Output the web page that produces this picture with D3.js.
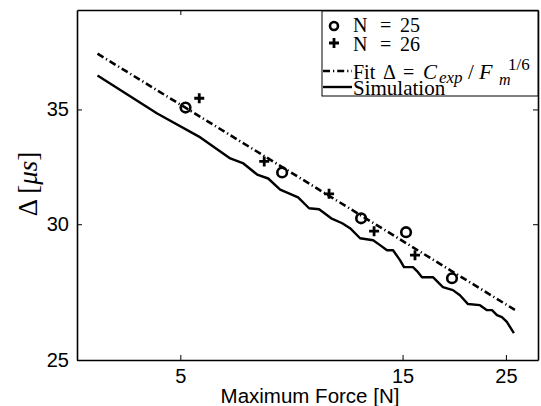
<!DOCTYPE html>
<html><head><meta charset="utf-8">
<script src="https://cdn.jsdelivr.net/npm/d3@7"></script>
<style>body{margin:0;background:#fff}svg{display:block}</style>
</head><body>
<svg id="c" width="541" height="406"></svg>
<script>
const xTicks = [5, 15, 25];
const yTicks = [25, 30, 35];
const n25X = [5.13, 8.27, 12.22, 15.26, 19.15];
const n25Y = [35.09, 32.16, 30.24, 29.68, 27.90];
const n26X = [5.49, 7.57, 10.43, 13.03, 15.95];
const n26Y = [35.53, 32.64, 31.25, 29.72, 28.78];
const fitX = [3.32, 26.14];
const fitY = [37.72, 26.74];
const simX = [3.32, 4.46, 5.52, 6.40, 6.83, 7.31, 7.72, 8.19, 8.95, 9.45, 9.93, 10.54, 11.13, 11.57, 12.16, 12.97, 13.42, 13.89, 14.31, 14.81, 15.11, 15.79, 16.19, 16.51, 17.43, 18.31, 19.24, 19.92, 20.73, 21.99, 22.77, 23.34, 23.92, 24.51, 25.12, 26.01];
const simY = [36.63, 34.81, 33.71, 32.77, 32.55, 32.07, 31.90, 31.43, 31.10, 30.65, 30.61, 30.24, 30.04, 29.84, 29.44, 29.36, 29.17, 28.97, 28.97, 28.59, 28.32, 28.32, 28.13, 27.94, 27.94, 27.57, 27.46, 27.27, 26.95, 26.91, 26.73, 26.73, 26.55, 26.48, 26.31, 25.92];
const legendLabels = ["N = 25", "N = 26", "Fit", "Simulation"];

const L = 77, R = 538, T = 10, B = 360;
const svg = d3.select("#c");
const x = d3.scaleLog().domain([3, 29.3]).range([L, R]);
const y = d3.scaleLog().domain([25, 40]).range([B, T]);

const sans = "Liberation Sans, Arial, sans-serif";
const serif = "Liberation Serif, Times New Roman, serif";
const dash = "7,3,1.2,3";

// data lines
const line = d3.line().x(d => x(d[0])).y(d => y(d[1]));
svg.append("path").datum(d3.zip(fitX, fitY)).attr("d", line)
  .attr("fill", "none").attr("stroke", "#000").attr("stroke-width", 2.6)
  .attr("stroke-dasharray", dash);
svg.append("path").datum(d3.zip(simX, simY)).attr("d", line)
  .attr("fill", "none").attr("stroke", "#000").attr("stroke-width", 2.4)
  .attr("stroke-linejoin", "round");

// markers
svg.append("g").selectAll("circle").data(d3.zip(n25X, n25Y)).join("circle")
  .attr("cx", d => x(d[0])).attr("cy", d => y(d[1])).attr("r", 4.8)
  .attr("fill", "none").attr("stroke", "#000").attr("stroke-width", 2.6);
svg.append("g").selectAll("path").data(d3.zip(n26X, n26Y)).join("path")
  .attr("transform", d => `translate(${x(d[0])},${y(d[1])})`)
  .attr("d", "M-5,0H5M0,-5V5")
  .attr("stroke", "#000").attr("stroke-width", 2.8).attr("fill", "none");

// axes
const ax = svg.append("g").attr("transform", `translate(0,${B})`)
  .call(d3.axisBottom(x).tickValues(xTicks).tickFormat(d3.format("d")).tickSizeInner(-5).tickSizeOuter(0).tickPadding(9));
const axT = svg.append("g").attr("transform", `translate(0,${T})`)
  .call(d3.axisTop(x).tickValues(xTicks).tickFormat("").tickSizeInner(-5).tickSizeOuter(0));
const ay = svg.append("g").attr("transform", `translate(${L},0)`)
  .call(d3.axisLeft(y).tickValues(yTicks).tickFormat(d3.format("d")).tickSizeInner(-5).tickSizeOuter(0).tickPadding(8));
const ayR = svg.append("g").attr("transform", `translate(${R},0)`)
  .call(d3.axisRight(y).tickValues(yTicks).tickFormat("").tickSizeInner(-5).tickSizeOuter(0));
[ax, axT, ay, ayR].forEach(g => {
  g.select(".domain").attr("stroke", "#000").attr("stroke-width", 1.6);
  g.selectAll(".tick line").attr("stroke", "#000").attr("stroke-width", 1);
  g.selectAll("text").attr("font-family", sans).attr("font-size", 20).attr("fill", "#000");
});

// axis titles
svg.append("text").attr("x", 310).attr("y", 403).attr("text-anchor", "middle")
  .attr("font-family", sans).attr("font-size", 20.5).text("Maximum Force [N]");
const yl = svg.append("text").attr("transform", "translate(37,184) rotate(-90)")
  .attr("text-anchor", "middle").attr("font-family", serif).attr("font-size", 27);
yl.append("tspan").text("Δ [");
yl.append("tspan").attr("font-style", "italic").text("μs");
yl.append("tspan").text("]");

// legend
const lg = svg.append("g");
lg.append("rect").attr("x", 322).attr("y", 11).attr("width", 216).attr("height", 85)
  .attr("fill", "#fff").attr("stroke", "#000").attr("stroke-width", 1);
lg.append("circle").attr("cx", 334).attr("cy", 26).attr("r", 4)
  .attr("fill", "none").attr("stroke", "#000").attr("stroke-width", 2.6);
lg.append("path").attr("d", "M329,43H339M334,38V48")
  .attr("stroke", "#000").attr("stroke-width", 2.8);
lg.append("line").attr("x1", 323).attr("x2", 352).attr("y1", 71).attr("y2", 71)
  .attr("stroke", "#000").attr("stroke-width", 2.6).attr("stroke-dasharray", dash);
lg.append("line").attr("x1", 323).attr("x2", 352).attr("y1", 87).attr("y2", 87)
  .attr("stroke", "#000").attr("stroke-width", 2.4);
const fs = 20;
function nRow(label, base) {
  const parts = label.split(" ");
  const t = lg.append("text").attr("y", base).attr("font-family", serif).attr("font-size", fs);
  t.append("tspan").attr("x", 353).text(parts[0]);
  t.append("tspan").attr("x", 380).text(parts[1]);
  t.append("tspan").attr("x", 400).text(parts[2]);
}
nRow(legendLabels[0], 32);
nRow(legendLabels[1], 51);
const ft = lg.append("text").attr("font-family", serif).attr("font-size", fs);
ft.append("tspan").attr("x", 353).attr("y", 79).text(legendLabels[2]);
ft.append("tspan").attr("x", 383).attr("y", 79).text("Δ");
ft.append("tspan").attr("x", 403).attr("y", 79).text("=");
ft.append("tspan").attr("x", 423).attr("y", 79).attr("font-style", "italic").attr("font-size", 21).text("C");
ft.append("tspan").attr("x", 439).attr("y", 83).attr("font-style", "italic").attr("font-size", 17).text("exp");
ft.append("tspan").attr("x", 468).attr("y", 79).attr("font-size", 21).text("/");
ft.append("tspan").attr("x", 479).attr("y", 79).attr("font-style", "italic").attr("font-size", 22).text("F");
ft.append("tspan").attr("x", 499).attr("y", 85).attr("font-style", "italic").attr("font-size", 16).text("m");
ft.append("tspan").attr("x", 508).attr("y", 70).attr("font-size", 17).text("1/6");
lg.append("text").attr("x", 353).attr("y", 95).attr("font-family", serif).attr("font-size", 21)
  .text(legendLabels[3]);
</script>
</body></html>
